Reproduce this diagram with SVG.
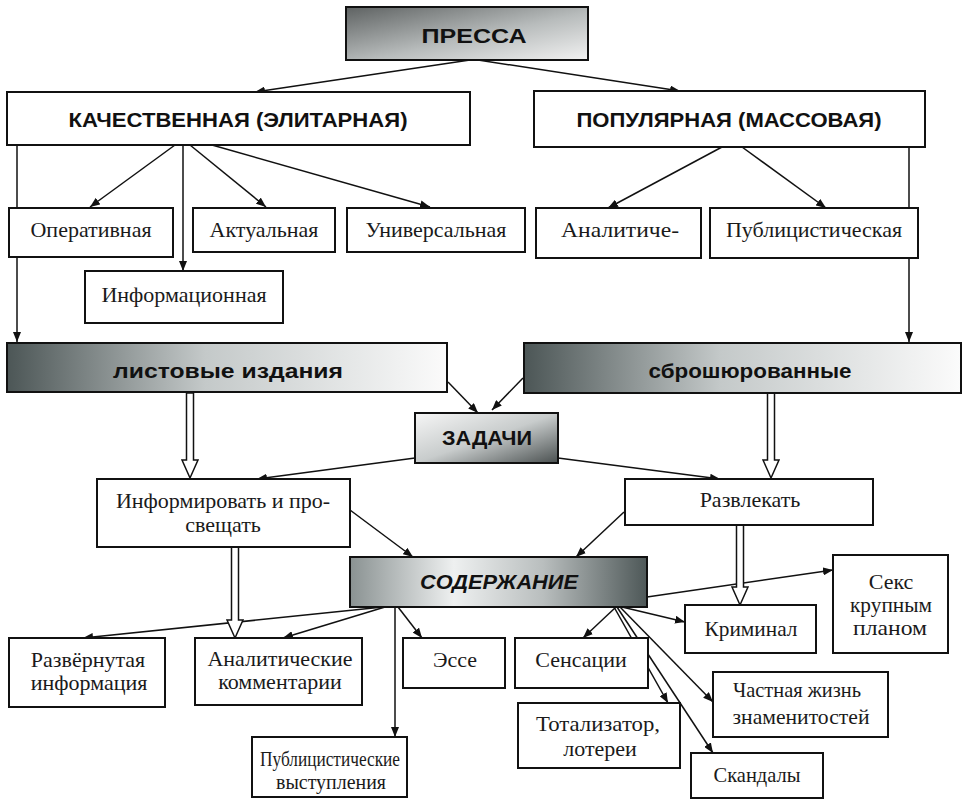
<svg xmlns="http://www.w3.org/2000/svg" width="966" height="803" viewBox="0 0 966 803">
<style>
.box{fill:#fff;stroke:#111;stroke-width:2}
.gbox{stroke:#111;stroke-width:2}
.t{font-family:"Liberation Serif","Times New Roman",serif;font-size:22px;fill:#1a1a1a;text-anchor:middle}
.h{font-family:"Liberation Sans",Arial,sans-serif;font-weight:bold;font-size:21px;fill:#111;text-anchor:middle}
.c line{stroke:#111;stroke-width:1.5;fill:none;marker-end:url(#ah)}
.hol{fill:#fff;stroke:#111;stroke-width:1.5}
</style>
<defs>
<marker id="ah" markerUnits="userSpaceOnUse" markerWidth="10" markerHeight="8" refX="10" refY="4" orient="auto">
<path d="M0,0 L10,4 L0,8 Z" fill="#111"/>
</marker>
<linearGradient id="gPress" x1="0" y1="0" x2="1" y2="1">
<stop offset="0" stop-color="#5e6262"/><stop offset="0.55" stop-color="#b8bcbc"/><stop offset="1" stop-color="#f2f2f2"/>
</linearGradient>
<linearGradient id="gSheet" x1="0" y1="0" x2="1" y2="0">
<stop offset="0" stop-color="#4c5656"/><stop offset="0.45" stop-color="#c4c9c9"/><stop offset="1" stop-color="#fbfbfb"/>
</linearGradient>
<linearGradient id="gTask" x1="0" y1="0" x2="1" y2="1">
<stop offset="0" stop-color="#f6f6f6"/><stop offset="0.5" stop-color="#c8cccc"/><stop offset="1" stop-color="#4a5050"/>
</linearGradient>
<linearGradient id="gCont" x1="0" y1="0" x2="1" y2="0">
<stop offset="0" stop-color="#8a9292"/><stop offset="0.35" stop-color="#eef0f0"/><stop offset="0.65" stop-color="#b9bebe"/><stop offset="1" stop-color="#4e5858"/>
</linearGradient>
</defs>

<g id="connectors" class="c">
<line x1="470" y1="60" x2="255" y2="92"/>
<line x1="478" y1="60" x2="680" y2="91"/>
<line x1="17" y1="145" x2="17" y2="342"/>
<line x1="175" y1="145" x2="90" y2="207"/>
<line x1="183" y1="145" x2="183" y2="271"/>
<line x1="190" y1="145" x2="266" y2="207"/>
<line x1="212" y1="145" x2="430" y2="207"/>
<line x1="722" y1="147" x2="608" y2="208"/>
<line x1="742" y1="147" x2="826" y2="208"/>
<line x1="909" y1="147" x2="909" y2="342"/>
<line x1="448" y1="382" x2="478" y2="413"/>
<line x1="523" y1="378" x2="492" y2="410"/>
<line x1="415" y1="458" x2="257" y2="479"/>
<line x1="558" y1="458" x2="720" y2="479"/>
<line x1="350" y1="510" x2="413" y2="557"/>
<line x1="624" y1="512" x2="576" y2="557"/>
<line x1="383" y1="607" x2="83" y2="638"/>
<line x1="385" y1="607" x2="283" y2="638"/>
<line x1="395" y1="607" x2="395" y2="737"/>
<line x1="398" y1="607" x2="422" y2="638"/>
<line x1="616" y1="607" x2="583" y2="638"/>
<line x1="614" y1="607" x2="668" y2="703"/>
<line x1="617" y1="607" x2="713" y2="753"/>
<line x1="620" y1="607" x2="713" y2="702"/>
<line x1="622" y1="607" x2="685" y2="622"/>
<line x1="647" y1="597" x2="833" y2="570"/>
<path class="hol" d="M186.5,393 V460 H182 L190,478 L198,460 H193.5 V393 Z"/>
<path class="hol" d="M767.5,393 V460 H763 L771,478 L779,460 H774.5 V393 Z"/>
<path class="hol" d="M231.5,547 V620 H227 L235,638 L243,620 H238.5 V547 Z"/>
<path class="hol" d="M736.5,525 V587 H732 L740,605 L748,587 H743.5 V525 Z"/>
</g>

<g id="n-pressa"><rect class="gbox" x="346" y="7" width="242" height="53" fill="url(#gPress)"/><text class="h" x="474" y="43" font-size="27" textLength="105" lengthAdjust="spacingAndGlyphs">ПРЕССА</text></g>
<g id="n-kach"><rect class="box" x="7" y="92" width="463" height="53"/><text class="h" x="238" y="127" textLength="339" lengthAdjust="spacingAndGlyphs">КАЧЕСТВЕННАЯ (ЭЛИТАРНАЯ)</text></g>
<g id="n-pop"><rect class="box" x="534" y="91" width="391" height="56"/><text class="h" x="729" y="127" textLength="305" lengthAdjust="spacingAndGlyphs">ПОПУЛЯРНАЯ (МАССОВАЯ)</text></g>

<g id="n-oper"><rect class="box" x="9" y="208" width="164" height="49"/><text class="t" x="91" y="237">Оперативная</text></g>
<g id="n-akt"><rect class="box" x="193" y="208" width="142" height="44"/><text class="t" x="264" y="237">Актуальная</text></g>
<g id="n-univ"><rect class="box" x="347" y="208" width="178" height="44"/><text class="t" x="436" y="237">Универсальная</text></g>
<g id="n-anal"><rect class="box" x="536" y="208" width="165" height="50"/><text class="t" x="620" y="237" textLength="118" lengthAdjust="spacingAndGlyphs">Аналитиче-</text></g>
<g id="n-publ"><rect class="box" x="710" y="208" width="208" height="50"/><text class="t" x="814" y="237">Публицистическая</text></g>
<g id="n-inf"><rect class="box" x="85" y="271" width="198" height="52"/><text class="t" x="184" y="302">Информационная</text></g>

<g id="n-list"><rect class="gbox" x="7" y="343" width="440" height="49" fill="url(#gSheet)"/><text class="h" x="228" y="378" font-size="23" textLength="230" lengthAdjust="spacingAndGlyphs">листовые издания</text></g>
<g id="n-bros"><rect class="gbox" x="524" y="343" width="437" height="50" fill="url(#gSheet)"/><text class="h" x="750" y="378" font-size="23" textLength="203" lengthAdjust="spacingAndGlyphs">сброшюрованные</text></g>

<g id="n-zad"><rect class="gbox" x="415" y="413" width="143" height="50" fill="url(#gTask)"/><text class="h" x="487" y="445" textLength="90" lengthAdjust="spacingAndGlyphs">ЗАДАЧИ</text></g>

<g id="n-informir"><rect class="box" x="97" y="479" width="253" height="68"/><text class="t" x="223" y="508">Информировать и про-</text><text class="t" x="223" y="532">свещать</text></g>
<g id="n-razvl"><rect class="box" x="625" y="479" width="248" height="46"/><text class="t" x="750" y="507">Развлекать</text></g>

<g id="n-sod"><rect class="gbox" x="350" y="557" width="297" height="50" fill="url(#gCont)"/><text class="h" x="499" y="589" font-style="italic" textLength="158" lengthAdjust="spacingAndGlyphs">СОДЕРЖАНИЕ</text></g>

<g id="n-razv"><rect class="box" x="9" y="638" width="156" height="69"/><text class="t" x="88" y="667">Развёрнутая</text><text class="t" x="89" y="690">информация</text></g>
<g id="n-analk"><rect class="box" x="195" y="638" width="167" height="67"/><text class="t" x="280" y="666">Аналитические</text><text class="t" x="280" y="689">комментарии</text></g>
<g id="n-esse"><rect class="box" x="403" y="638" width="102" height="50"/><text class="t" x="455" y="667">Эссе</text></g>
<g id="n-publv"><rect class="box" x="252" y="737" width="155" height="60"/><text class="t" x="330" y="766" font-size="19" textLength="140" lengthAdjust="spacingAndGlyphs">Публицистические</text><text class="t" x="331" y="789" font-size="19" textLength="110" lengthAdjust="spacingAndGlyphs">выступления</text></g>
<g id="n-sens"><rect class="box" x="515" y="638" width="133" height="50"/><text class="t" x="581" y="667">Сенсации</text></g>
<g id="n-krim"><rect class="box" x="685" y="605" width="131" height="48"/><text class="t" x="751" y="636" textLength="93" lengthAdjust="spacingAndGlyphs">Криминал</text></g>
<g id="n-seks"><rect class="box" x="833" y="555" width="115" height="98"/><text class="t" x="891" y="589">Секс</text><text class="t" x="891" y="612" textLength="82" lengthAdjust="spacingAndGlyphs">крупным</text><text class="t" x="890" y="635" textLength="74" lengthAdjust="spacingAndGlyphs">планом</text></g>
<g id="n-chast"><rect class="box" x="713" y="672" width="175" height="65"/><text class="t" x="797" y="697" textLength="128" lengthAdjust="spacingAndGlyphs">Частная жизнь</text><text class="t" x="801" y="724" textLength="137" lengthAdjust="spacingAndGlyphs">знаменитостей</text></g>
<g id="n-total"><rect class="box" x="518" y="703" width="162" height="65"/><text class="t" x="598" y="731" textLength="124" lengthAdjust="spacingAndGlyphs">Тотализатор,</text><text class="t" x="600" y="756">лотереи</text></g>
<g id="n-skand"><rect class="box" x="691" y="753" width="132" height="45"/><text class="t" x="757" y="782" textLength="87" lengthAdjust="spacingAndGlyphs">Скандалы</text></g>
</svg>
